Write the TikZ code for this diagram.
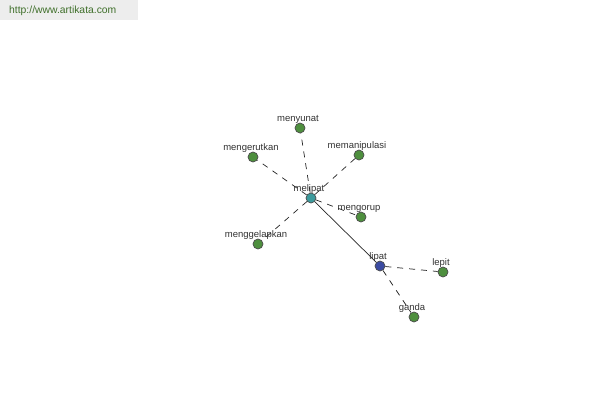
\documentclass[tikz,border=0pt]{standalone}
\usepackage{fontspec}
\setmainfont{Liberation Sans}
\usetikzlibrary{positioning}

\definecolor{wordgreen}{HTML}{4E8F3E}
\definecolor{wordteal}{HTML}{3C9A9C}
\definecolor{wordblue}{HTML}{3B4BA2}
\definecolor{labelgray}{HTML}{333333}
\definecolor{sitegreen}{HTML}{3F6F2A}

\begin{document}
\begin{tikzpicture}[x=0.02cm, y=-0.02cm,
  every node/.style={font=\fontsize{5.4}{6}\selectfont},
  word/.style={circle, draw=black!70, fill=wordgreen, minimum size=0.2cm, inner sep=0pt,
    label={[text=labelgray, xshift=-0.04cm, yshift=-0.14cm]above:#1}},
  headword/.style={word=#1, fill=wordteal},
  rootword/.style={word=#1, fill=wordblue},
  link/.style={dashed, dash pattern=on 3.4pt off 3.4pt, black!85, thin}]
  % Canvas
  \useasboundingbox (0,0) rectangle (600,400);
  \fill[white] (0,0) rectangle (600,400);

  % Site banner
  \fill[black!7] (0,0) rectangle (138,20);
  \node[anchor=west, text=sitegreen, font=\fontsize{5.9}{7}\selectfont] (site) at (3,11) {http://www.artikata.com};

  % Words
  \node[headword=melipat] (melipat) at (311,198) {};
  \node[word=menyunat] (menyunat) at (300,128) {};
  \node[word=mengerutkan] (mengerutkan) at (253,157) {};
  \node[word=memanipulasi] (memanipulasi) at (359,155) {};
  \node[word=mengorup] (mengorup) at (361,217) {};
  \node[word=menggelapkan] (menggelapkan) at (258,244) {};
  \node[rootword=lipat] (lipat) at (380,266) {};
  \node[word=lepit] (lepit) at (443,272) {};
  \node[word=ganda] (ganda) at (414,317) {};

  % Links
  \foreach \w in {menyunat, mengerutkan, memanipulasi, mengorup, menggelapkan}
    \draw[link] (melipat) -- (\w);
  \draw[black!85, thin] (melipat) -- (lipat);
  \draw[link] (lipat) -- (lepit);
  \draw[link] (lipat) -- (ganda);
\end{tikzpicture}
\end{document}
